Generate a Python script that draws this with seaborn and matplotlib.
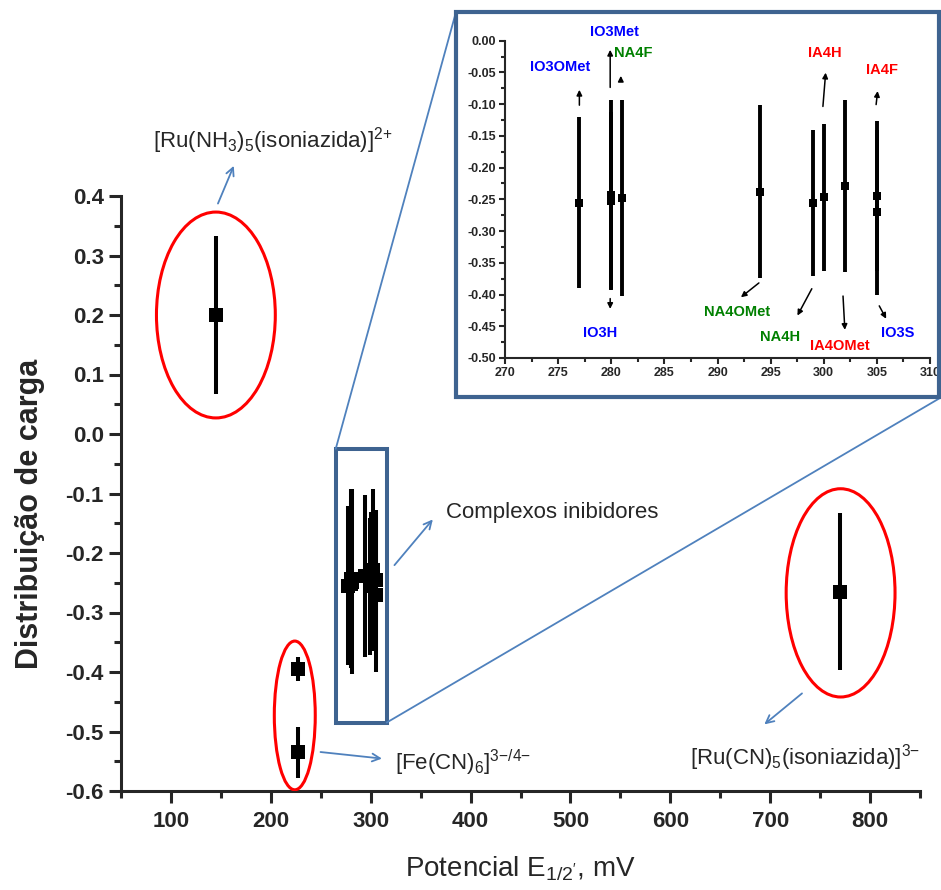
import numpy as np
import pandas as pd
import seaborn as sns
import matplotlib.pyplot as plt
from matplotlib.patches import Ellipse, Rectangle, ConnectionPatch
from matplotlib.ticker import MultipleLocator, FormatStrFormatter

# main complexes (E1/2 in mV, charge distribution, error)
main_names = ["Ru(NH3)5", "Fe(CN)6 a", "Fe(CN)6 b", "Ru(CN)5"]
main_x = [145, 227, 227, 770]
main_y = [0.200, -0.395, -0.535, -0.265]
main_err = [0.133, 0.020, 0.043, 0.132]

# inhibitor complexes (inset)
inh_names = ["IO3OMet", "IO3Met", "IO3H", "NA4F", "NA4OMet",
             "NA4H", "IA4H", "IA4OMet", "IA4F", "IO3S"]
inh_x = [277, 280, 280, 281, 294, 299, 300, 302, 305, 305]
inh_y = [-0.255, -0.243, -0.252, -0.248, -0.238,
         -0.256, -0.247, -0.229, -0.245, -0.270]
inh_err = [0.134, 0.150, 0.140, 0.155, 0.136,
           0.115, 0.116, 0.136, 0.118, 0.130]

main_df = pd.DataFrame({"x": main_x, "y": main_y, "err": main_err})
inh_df = pd.DataFrame({"name": inh_names, "x": inh_x, "y": inh_y, "err": inh_err})

sns.set_style("ticks")
plt.rcParams["font.family"] = ["Liberation Sans", "DejaVu Sans"]
plt.rcParams["mathtext.fontset"] = "custom"
plt.rcParams["mathtext.rm"] = "Liberation Sans"
plt.rcParams["mathtext.it"] = "Liberation Sans:italic"
plt.rcParams["mathtext.bf"] = "Liberation Sans:bold"
plt.rcParams["axes.unicode_minus"] = False

W, H = 941, 890
fig = plt.figure(figsize=(W / 100, H / 100), dpi=100)

def fx(px):
    return px / W

def fy(py):
    return 1 - py / H

ax = fig.add_axes([fx(121), fy(791), fx(920) - fx(121), fy(196) - fy(791)])

# ---- main plot ----
both = pd.concat([main_df, inh_df[["x", "y", "err"]]], ignore_index=True)
ax.errorbar(both["x"], both["y"], yerr=both["err"], fmt="none",
            ecolor="black", elinewidth=2.9, capsize=0, zorder=3)
sns.scatterplot(data=both, x="x", y="y", marker="s", s=95, color="black",
                edgecolor="black", linewidth=0, ax=ax, zorder=4, legend=False)

ax.set_xlim(50, 850)
ax.set_ylim(-0.6, 0.4)
ax.xaxis.set_major_locator(MultipleLocator(100))
ax.xaxis.set_minor_locator(MultipleLocator(50))
ax.yaxis.set_major_locator(MultipleLocator(0.1))
ax.yaxis.set_minor_locator(MultipleLocator(0.05))
ax.yaxis.set_major_formatter(FormatStrFormatter("%.1f"))
ax.spines[["top", "right"]].set_visible(False)
for s in ["left", "bottom"]:
    ax.spines[s].set_linewidth(2.2)
ax.tick_params(which="major", length=8.5, width=2.2, labelsize=16, direction="out")
ax.tick_params(which="minor", length=5, width=2.2, direction="out")
ax.tick_params(axis="x", pad=6)
ax.tick_params(axis="y", pad=4)
for lab in ax.get_xticklabels() + ax.get_yticklabels():
    lab.set_fontweight("bold")
ax.set_xlabel(r"Potencial E$_{\mathregular{1/2'}}$, mV", fontsize=20, labelpad=16)
ax.set_ylabel("Distribuição de carga", fontsize=22, fontweight="bold")
ax.yaxis.set_label_coords(-0.095, 0.466)

red = "#FF0000"
for (cx, cy, w, h) in [(145, 0.200, 119, 0.346), (224, -0.473, 41, 0.25),
                       (770.5, -0.267, 109, 0.35)]:
    ax.add_patch(Ellipse((cx, cy), w, h, fill=False, edgecolor=red, lw=2.2, zorder=5))

box_col = "#3E6390"
ax.add_patch(Rectangle((265, -0.485), 51, 0.46, fill=False, edgecolor=box_col,
                       lw=2.9, zorder=6))

arr_col = "#4F81BD"
arr_kw = dict(arrowstyle="->", color=arr_col, lw=1.3, mutation_scale=14)
ann = [
    (r"[Ru(NH$_{\mathregular{3}}$)$_{\mathregular{5}}$(isoniazida)]$^{\mathregular{2{+}}}$",
     (82, 0.481), (146, 0.383), (164, 0.455)),
    ("Complexos inibidores", (375, -0.141), (322, -0.224), (364, -0.140)),
    (r"[Fe(CN)$_{\mathregular{6}}$]$^{\mathregular{3{-}/4{-}}}$",
     (324, -0.565), (247, -0.534), (314, -0.546)),
    (r"[Ru(CN)$_{\mathregular{5}}$(isoniazida)]$^{\mathregular{3{-}}}$",
     (620, -0.556), (734, -0.433), (692, -0.491)),
]
for text, tpos, start, end in ann:
    ax.text(tpos[0], tpos[1], text, fontsize=16, ha="left", va="baseline")
    ax.annotate("", xy=end, xytext=start, arrowprops=arr_kw, annotation_clip=False)

# ---- inset ----
axi = fig.add_axes([fx(505), fy(358), fx(930) - fx(505), fy(40.7) - fy(358)])
axi.errorbar(inh_df["x"], inh_df["y"], yerr=inh_df["err"], fmt="none",
             ecolor="black", elinewidth=2.8, capsize=0, zorder=3)
sns.scatterplot(data=inh_df, x="x", y="y", marker="s", s=32, color="black",
                edgecolor="black", linewidth=0, ax=axi, zorder=4, legend=False)
axi.set_xlim(270, 310)
axi.set_ylim(-0.5, 0.0)
axi.xaxis.set_major_locator(MultipleLocator(5))
axi.xaxis.set_minor_locator(MultipleLocator(2.5))
axi.yaxis.set_major_locator(MultipleLocator(0.05))
axi.yaxis.set_minor_locator(MultipleLocator(0.025))
axi.yaxis.set_major_formatter(FormatStrFormatter("%.2f"))
axi.spines[["top", "right"]].set_visible(False)
for s in ["left", "bottom"]:
    axi.spines[s].set_linewidth(1.5)
axi.tick_params(which="major", length=4.5, width=1.5, labelsize=9, pad=2)
axi.tick_params(which="minor", length=3, width=1.5)
for lab in axi.get_xticklabels() + axi.get_yticklabels():
    lab.set_fontweight("bold")
axi.set_xlabel("")
axi.set_ylabel("")

blue, green = "#0000FF", "#008000"
label_color = {"IO3": blue, "NA4": green, "IA4": red}
inset_ann = {
    "IO3OMet": ((275.2, -0.042), (277.0, -0.106), (277.0, -0.073)),
    "IO3Met": ((280.3, 0.014), (279.9, -0.078), (279.9, -0.010)),
    "NA4F": ((282.1, -0.019), (280.9, -0.068), (280.9, -0.051)),
    "NA4OMet": ((291.8, -0.427), (294.1, -0.379), (292.0, -0.407)),
    "NA4H": ((295.9, -0.467), (299.0, -0.387), (297.4, -0.437)),
    "IA4H": ((300.1, -0.019), (299.9, -0.108), (300.2, -0.046)),
    "IA4OMet": ((301.5, -0.481), (301.8, -0.398), (302.0, -0.460)),
    "IA4F": ((305.5, -0.046), (304.9, -0.105), (305.1, -0.075)),
    "IO3H": ((279.0, -0.461), (279.9, -0.402), (279.9, -0.427)),
    "IO3S": ((307.0, -0.461), (305.1, -0.414), (306.0, -0.442)),
}
for name in inh_names:
    tpos, start, end = inset_ann[name]
    axi.text(tpos[0], tpos[1], name, fontsize=10.5, fontweight="bold",
             color=label_color[name[:3]], ha="center", va="center")
    axi.annotate("", xy=end, xytext=start, annotation_clip=False,
                 arrowprops=dict(arrowstyle="-|>", color="black", lw=1.1,
                                 mutation_scale=8))

# inset frame and connectors
fig.patches.append(Rectangle((fx(456), fy(397)), fx(939) - fx(456), fy(12) - fy(397),
                             transform=fig.transFigure, fill=False,
                             edgecolor=box_col, lw=3, zorder=10))
for xy_data, xy_fig in [((265, -0.025), (fx(456), fy(12))),
                        ((316, -0.485), (fx(940), fy(398)))]:
    con = ConnectionPatch(xyA=xy_data, coordsA=ax.transData,
                          xyB=xy_fig, coordsB=fig.transFigure,
                          color=arr_col, lw=1.3)
    fig.add_artist(con)

fig.savefig("out.png", dpi=100)
